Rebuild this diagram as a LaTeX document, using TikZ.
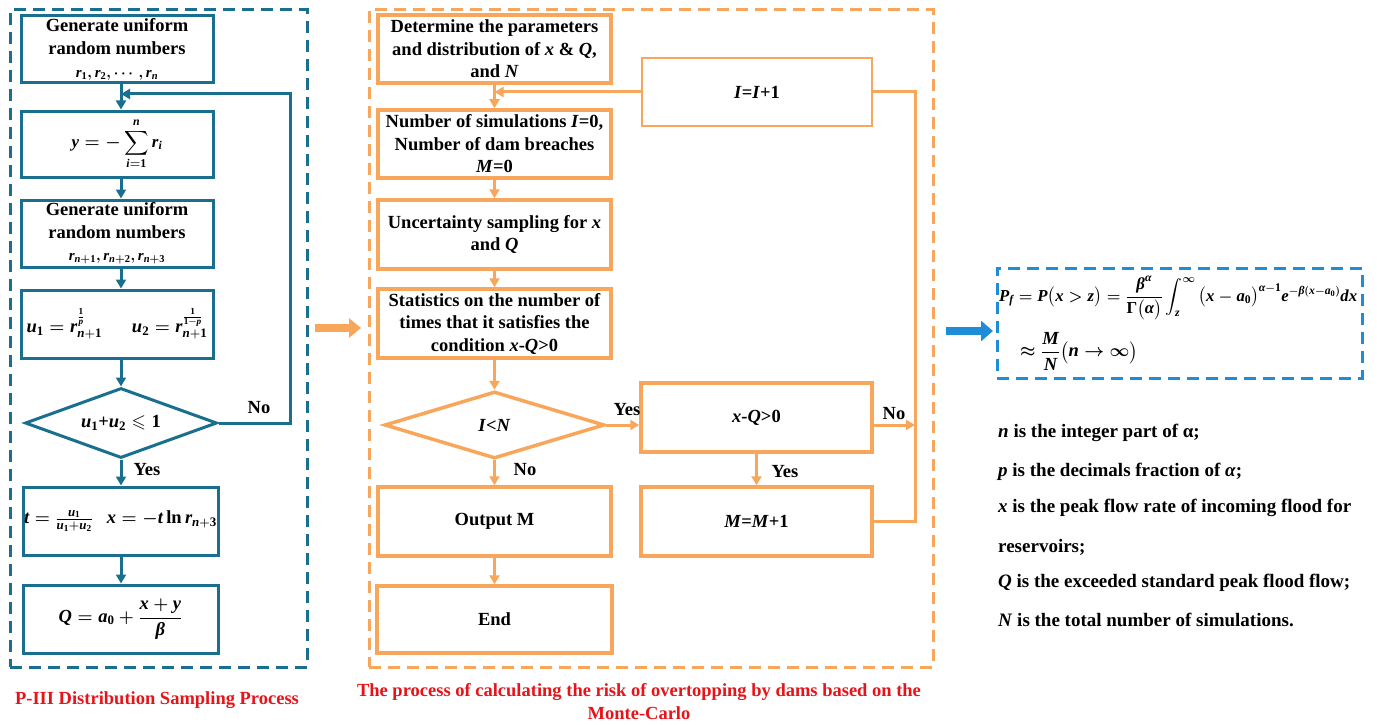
\documentclass[tikz,border=0pt]{standalone}
\usepackage{amsmath,amssymb}
\usepackage{fontspec}
\setmainfont{Liberation Serif}
\usetikzlibrary{arrows.meta,shapes.geometric,calc}
\definecolor{lblue}{RGB}{26,111,143}
\definecolor{morange}{RGB}{248,166,92}
\definecolor{fblue}{RGB}{30,140,215}
\definecolor{capred}{RGB}{230,20,25}
\newcommand\mvar[1]{\text{\normalfont\bfseries\itshape #1}}
\newcommand\mnum[1]{\text{\normalfont\bfseries #1}}
\begin{document}
\begin{tikzpicture}[x=1pt,y=-1pt,
  txt/.style={font=\fontsize{18.5}{22.5}\selectfont\bfseries\boldmath, align=center, inner sep=0pt},
  lbox/.style={txt, draw=lblue, line width=3pt},
  obox/.style={txt, draw=morange, line width=3.5pt},
  ldia/.style={txt, diamond, aspect=3, draw=lblue, line width=3pt},
  odia/.style={txt, diamond, aspect=3, draw=morange, line width=3.5pt},
  larr/.style={draw=lblue, line width=3pt, -{Triangle[length=9pt,width=10pt]}},
  oarr/.style={draw=morange, line width=3pt, -{Triangle[length=9pt,width=10pt]}},
  oline/.style={draw=morange, line width=3pt},
  panel/.style={dash pattern=on 12pt off 7pt, line width=3pt, inner sep=0pt},
  lab/.style={txt},
  note/.style={txt, font=\fontsize{19}{22.5}\selectfont\bfseries, anchor=west},
  captxt/.style={txt, text=capred},
]
\useasboundingbox (0,0) rectangle (1377,725);

% ---------- panels
\node[panel, draw=lblue, minimum width=297, minimum height=657] (lpanel) at (158.5,338.5) {};
\node[panel, draw=morange, minimum width=564, minimum height=657] (mpanel) at (651,338.5) {};
\node[panel, draw=fblue, minimum width=365, minimum height=110] (fpanel) at (1179.5,323) {};

% ---------- left flowchart
\node[lbox, minimum width=192, minimum height=67] (b1) at (117,49.5)
  {Generate uniform\\random numbers\\[1pt]{\fontsize{15}{15}\selectfont $\mvar{r}_{\mnum{1}},\mvar{r}_{\mnum{2}},\cdots,\mvar{r}_{\mvar{n}}$}};
\node[lbox, minimum width=192, minimum height=66] (b2) at (117,144)
  {\fontsize{17}{20}\selectfont$\mvar{y}=-\displaystyle\sum_{\mvar{i}=\mnum{1}}^{\mvar{n}}\mvar{r}_{\mvar{i}}$};
\node[lbox, minimum width=192, minimum height=67] (b3) at (117,233.5)
  {Generate uniform\\random numbers\\[0pt]{\fontsize{15}{15}\selectfont $\mvar{r}_{\mvar{n}+\mnum{1}},\mvar{r}_{\mvar{n}+\mnum{2}},\mvar{r}_{\mvar{n}+\mnum{3}}$}};
\node[lbox, minimum width=192, minimum height=68] (b4) at (117,324)
  {$\mvar{u}_{\mnum{1}}=\mvar{r}_{\mvar{n}+\mnum{1}}^{\frac{\mnum{1}}{\mvar{p}}}$\hspace{30pt}$\mvar{u}_{\mnum{2}}=\mvar{r}_{\mvar{n}+\mnum{1}}^{\frac{\mnum{1}}{\mnum{1}-\mvar{p}}}$};
\node[ldia, minimum width=192, minimum height=70] (d1) at (121,423)
  {$\mvar{u}_{\mnum{1}}\mnum{+}\mvar{u}_{\mnum{2}}\leqslant\mnum{1}$};
\node[lbox, minimum width=195, minimum height=68] (b5) at (120.5,521)
  {$\mvar{t}=\frac{\mvar{u}_{\mnum{1}}}{\mvar{u}_{\mnum{1}}+\mvar{u}_{\mnum{2}}}$\hspace{14pt}$\mvar{x}=-\mvar{t}\,\mnum{ln}\,\mvar{r}_{\mvar{n}+\mnum{3}}$};
\node[lbox, minimum width=195, minimum height=68] (b6) at (120.5,619)
  {$\mvar{Q}=\mvar{a}_{\mnum{0}}+\dfrac{\mvar{x}+\mvar{y}}{\mvar{β}}$};

\draw[larr] (b1.south -| d1) -- (b2.north -| d1);
\draw[larr] (b2.south -| d1) -- (b3.north -| d1);
\draw[larr] (b3.south -| d1) -- (b4.north -| d1);
\draw[larr] (b4.south -| d1) -- (d1.north);
\draw[larr] (d1.south) -- (b5.north -| d1);
\draw[larr] (b5.south -| d1) -- (b6.north -| d1);
\coordinate (lloop) at (290,94);
\draw[larr] (d1.east) -| (lloop) -- (lloop -| d1);
\node[lab] (lno) at (259,408) {No};
\node[lab] (lyes) at (147,470) {Yes};

% ---------- middle flowchart
\node[obox, minimum width=233, minimum height=68] (mA) at (494.5,49)
  {Determine the parameters\\and distribution of \textit{x} \& \textit{Q},\\and \textit{N}};
\node[obox, minimum width=233, minimum height=68] (mB) at (494.5,144)
  {Number of simulations \textit{I}=0,\\Number of dam breaches\\\textit{M}=0};
\node[obox, minimum width=233, minimum height=69] (mC) at (494.5,234.5)
  {Uncertainty sampling for \textit{x}\\and \textit{Q}};
\node[obox, minimum width=233, minimum height=69] (mD) at (494.5,323.5)
  {Statistics on the number of\\times that it satisfies the\\condition \textit{x}-\textit{Q}>0};
\node[odia, minimum width=220, minimum height=67] (m1) at (494.5,425)
  {\textit{I}<\textit{N}};
\node[obox, minimum width=231, minimum height=69] (mX) at (756.5,417.5)
  {\textit{x}-\textit{Q}>0};
\node[obox, minimum width=233, minimum height=69] (mO) at (494.5,521.5)
  {Output M};
\node[obox, minimum width=231, minimum height=69] (mM) at (756.5,521.5)
  {\textit{M}=\textit{M}+1};
\node[obox, minimum width=235, minimum height=67] (mE) at (494.5,619.5)
  {End};
\node[txt, draw=morange, line width=2pt, minimum width=230, minimum height=68] (mI) at (757,92)
  {\textit{I}=\textit{I}+1};

\draw[oarr] (mA) -- (mB);
\draw[oarr] (mB) -- (mC);
\draw[oarr] (mC) -- (mD);
\draw[oarr] (mD) -- (m1);
\draw[oarr] (m1) -- (mO);
\draw[oarr] (mO) -- (mE);
\draw[oarr] (m1.east) -- (m1.east -| mX.west);
\draw[oarr] (mX) -- (mM);
\coordinate (rc) at (915,92);
\draw[oarr] (m1.east -| mX.east) -- (m1.east -| rc);
\draw[oline] (mM.east) -| (rc) -- (mI.east);
\draw[oarr] (mI.west) -- (mI.west -| mA.south);
\node[lab] (myes1) at (627,410) {Yes};
\node[lab] (mno1) at (894,414) {No};
\node[lab] (mno2) at (525,470) {No};
\node[lab] (myes2) at (785,472) {Yes};

% ---------- block arrows between panels
\coordinate (oa1) at (315,328);
\coordinate (oa2) at (361,328);
\draw[draw=morange, line width=8pt, -{Triangle[length=12pt,width=19pt]}] (oa1) -- (oa2);
\coordinate (ba1) at (946,331);
\coordinate (ba2) at (993,331);
\draw[draw=fblue, line width=8pt, -{Triangle[length=12pt,width=20pt]}] (ba1) -- (ba2);

% ---------- formula
\node[txt, anchor=west] (f1) at (999,298)
  {\resizebox{358pt}{!}{$\mvar{P}_{\mvar{f}}=\mvar{P}\bigl(\mvar{x}>\mvar{z}\bigr)=\dfrac{\mvar{β}^{\mvar{α}}}{\mnum{Γ}\bigl(\mvar{α}\bigr)}\displaystyle\int_{\mvar{z}}^{\infty}\,\bigl(\mvar{x}-\mvar{a}_{\mnum{0}}\bigr)^{\mvar{α}-\mnum{1}}\mvar{e}^{-\mvar{β}(\mvar{x}-\mvar{a}_{\mnum{0}})}\mvar{dx}$}};
\node[txt, anchor=west] (f2) at (1020,351)
  {$\approx\dfrac{\mvar{M}}{\mvar{N}}\bigl(\mvar{n}\to\infty\bigr)$};

% ---------- notes
\node[note] (n1) at (998,433) {\textit{n} is the integer part of α;};
\node[note] (n2) at (998,472) {\textit{p} is the decimals fraction of \textit{α};};
\node[note] (n3) at (998,508) {\textit{x} is the peak flow rate of incoming flood for};
\node[note] (n4) at (998,547) {reservoirs;};
\node[note] (n5) at (998,583) {\textit{Q} is the exceeded standard peak flood flow;};
\node[note] (n6) at (998,620) {\textit{N} is the total number of simulations.};

% ---------- captions
\node[captxt] (c1) at (157,700) {P-III Distribution Sampling Process};
\node[captxt, font=\fontsize{18.5}{23}\selectfont\bfseries] (c2) at (639,701.5)
  {The process of calculating the risk of overtopping by dams based on the\\Monte-Carlo};
\end{tikzpicture}
\end{document}
